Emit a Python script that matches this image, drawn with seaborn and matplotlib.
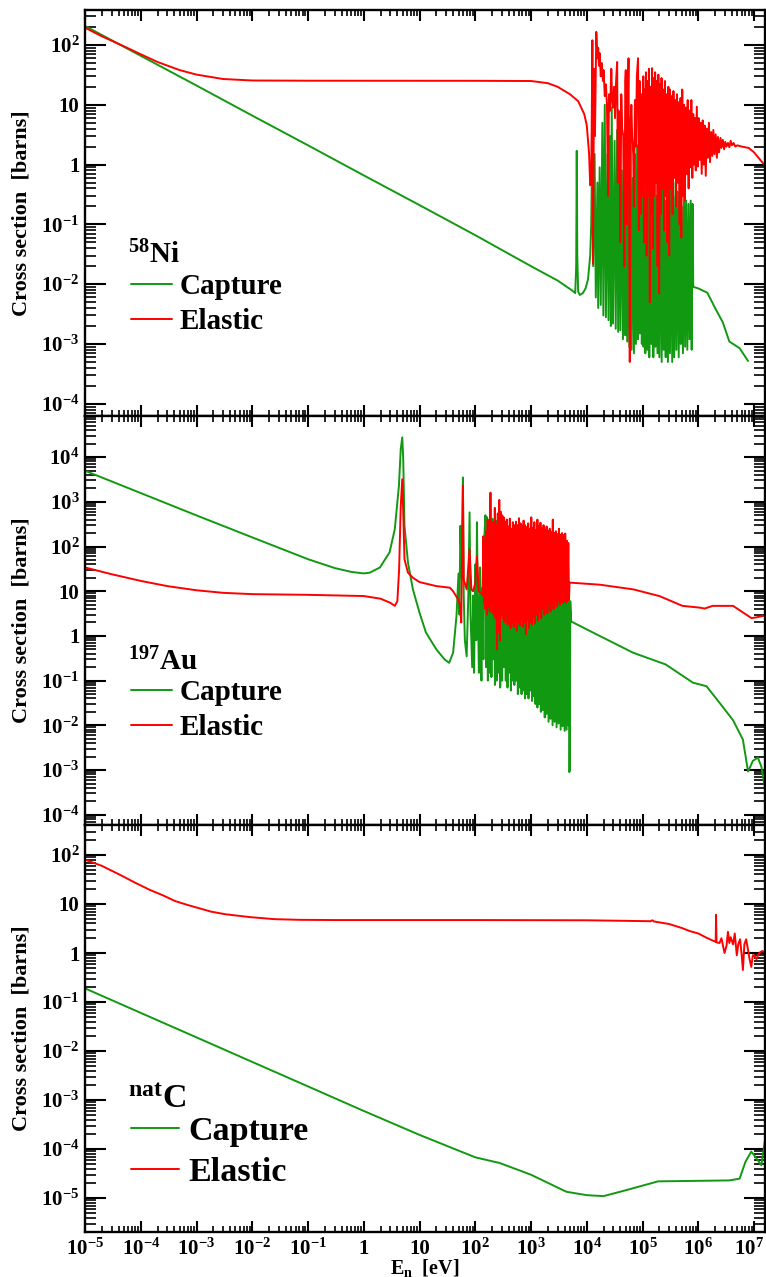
import numpy as np
import pandas as pd
import matplotlib
matplotlib.use("Agg")
import matplotlib.pyplot as plt
import matplotlib.transforms as mtransforms
import seaborn as sns
from matplotlib.ticker import FixedLocator, FuncFormatter, NullFormatter

# ---------------- data (E in eV, cross section in barns) ----------------
ni_capture = [
    (1e-5, 208), (1e-4, 66), (1e-3, 21), (1e-2, 6.6), (0.1, 2.1), (1, 0.66), (10, 0.21),
    (100, 0.066), (1000, 0.02), (3000, 0.0115), (5500, 0.0078), (6200, 0.0071), (6450, 0.02),
    (6600, 1.7), (6750, 0.03), (7000, 0.0075), (7500, 0.0066), (8500, 0.0071), (9500, 0.0085),
    (1.05e4, 0.012), (1.15e4, 0.03), (1.2e4, 0.1),
    (1.25e4, 2.0), (1.3e4, 0.02), (1.38e4, 1.5), (1.45e4, 0.006), (1.55e4, 0.5), (1.6e4, 0.004),
    (1.7e4, 0.9), (1.78e4, 0.0045), (1.9e4, 5), (1.98e4, 0.003), (2.1e4, 10), (2.2e4, 0.0028),
    (2.35e4, 1.5), (2.45e4, 0.0025), (2.6e4, 3), (2.7e4, 0.002), (2.8e4, 9), (2.95e4, 0.0022),
    (3.15e4, 2.5), (3.3e4, 0.0018), (3.5e4, 3.8), (3.65e4, 0.0016), (3.85e4, 5), (4.0e4, 0.0017),
    (4.25e4, 0.8), (4.45e4, 0.0012), (4.7e4, 2.2), (4.9e4, 0.0014), (5.1e4, 3.5), (5.3e4, 0.0011),
    (5.6e4, 1.0), (5.8e4, 0.0009), (6.1e4, 2.0), (6.35e4, 0.0008), (6.7e4, 0.6), (7.0e4, 0.0007),
    (7.3e4, 1.5), (7.6e4, 0.001), (8.0e4, 2.1), (8.3e4, 0.0012), (8.7e4, 0.9), (9.0e4, 0.0015),
    (9.4e4, 1.2), (9.7e4, 0.001),
    (1.0e5, 0.6), (1.04e5, 0.0009), (1.08e5, 1.0), (1.12e5, 0.0007), (1.17e5, 0.4), (1.22e5, 0.0008),
    (1.27e5, 1.5), (1.32e5, 0.0006), (1.38e5, 0.7), (1.44e5, 0.001), (1.5e5, 0.5), (1.56e5, 0.0006),
    (1.63e5, 1.2), (1.7e5, 0.0009), (1.77e5, 0.3), (1.85e5, 0.0007), (1.93e5, 0.8), (2.0e5, 0.0006),
    (2.1e5, 0.5), (2.2e5, 0.0005), (2.3e5, 0.9), (2.4e5, 0.0008), (2.5e5, 0.25), (2.6e5, 0.0006),
    (2.72e5, 0.6), (2.85e5, 0.0005), (2.97e5, 0.4), (3.1e5, 0.0007), (3.25e5, 0.7), (3.4e5, 0.0005),
    (3.55e5, 0.3), (3.7e5, 0.0006), (3.9e5, 0.5), (4.05e5, 0.0008), (4.25e5, 0.35), (4.45e5, 0.0006),
    (4.65e5, 0.45), (4.85e5, 0.001), (5.05e5, 0.2), (5.3e5, 0.0007), (5.55e5, 0.3), (5.8e5, 0.0009),
    (6.05e5, 0.25), (6.35e5, 0.0008), (6.65e5, 0.22), (6.95e5, 0.0012), (7.3e5, 0.25), (7.6e5, 0.0008),
    (7.9e5, 0.22), (8.1e5, 0.01),
    (8.2e5, 0.009), (1.0e6, 0.0085), (1.45e6, 0.0072), (2.0e6, 0.004), (2.75e6, 0.0023),
    (3.6e6, 0.0011), (5.5e6, 0.00085), (7.8e6, 0.00052),
]

ni_elastic = [
    (1e-5, 195), (2e-5, 140), (5e-5, 95), (1e-4, 70), (2e-4, 52), (5e-4, 38), (1e-3, 32),
    (3e-3, 27), (1e-2, 25.5), (0.1, 25.3), (1, 25.3), (10, 25.2), (100, 25.2), (1000, 25),
    (2000, 23), (3000, 20), (5000, 15), (7000, 11.5), (9000, 7), (1.0e4, 4.5), (1.1e4, 1.5),
    (1.15e4, 0.45), (1.2e4, 0.5),
    (1.26e4, 120), (1.29e4, 0.022), (1.35e4, 40), (1.4e4, 3), (1.48e4, 166), (1.55e4, 60),
    (1.6e4, 90), (1.65e4, 45), (1.7e4, 73), (1.78e4, 30), (1.85e4, 50), (1.95e4, 25), (2.0e4, 38),
    (2.1e4, 14), (2.2e4, 22), (2.3e4, 10), (2.4e4, 0.3), (2.5e4, 15), (2.62e4, 8), (2.75e4, 40),
    (2.85e4, 12), (2.95e4, 9), (3.1e4, 20), (3.2e4, 6), (3.35e4, 25), (3.5e4, 52), (3.6e4, 0.5),
    (3.7e4, 8), (3.85e4, 5), (4.0e4, 0.05), (4.15e4, 15), (4.3e4, 4), (4.5e4, 3), (4.7e4, 0.02),
    (4.9e4, 25), (5.0e4, 38), (5.2e4, 0.1), (5.4e4, 6), (5.6e4, 60), (5.9e4, 0.0005), (6.1e4, 5),
    (6.3e4, 10), (6.5e4, 3), (6.8e4, 1.5), (7.0e4, 0.2), (7.3e4, 12), (7.6e4, 2), (7.9e4, 30),
    (8.3e4, 60), (8.6e4, 0.08), (8.9e4, 25), (9.2e4, 0.15), (9.6e4, 15), (1.0e5, 0.3),
    (1.03e5, 30), (1.06e5, 0.05), (1.09e5, 18), (1.12e5, 0.5), (1.15e5, 35), (1.18e5, 0.03),
    (1.22e5, 25), (1.26e5, 0.3), (1.3e5, 40), (1.35e5, 0.005), (1.39e5, 20), (1.44e5, 0.15),
    (1.48e5, 41), (1.53e5, 0.04), (1.58e5, 28), (1.63e5, 0.3), (1.68e5, 35), (1.74e5, 0.5),
    (1.8e5, 25), (1.86e5, 0.02), (1.92e5, 32), (1.98e5, 0.007), (2.05e5, 22), (2.12e5, 0.15),
    (2.19e5, 28), (2.27e5, 0.4), (2.35e5, 18), (2.43e5, 0.08), (2.52e5, 25), (2.6e5, 0.3),
    (2.7e5, 15), (2.8e5, 0.05), (2.9e5, 20), (3.0e5, 0.03), (3.1e5, 18), (3.22e5, 0.4),
    (3.34e5, 14), (3.46e5, 0.15), (3.58e5, 17), (3.72e5, 0.6), (3.86e5, 12), (4.0e5, 0.2),
    (4.15e5, 15), (4.3e5, 0.5), (4.45e5, 11), (4.62e5, 0.1), (4.8e5, 13), (4.95e5, 0.06),
    (5.15e5, 18), (5.35e5, 0.3), (5.55e5, 10), (5.75e5, 0.25), (5.95e5, 9), (6.2e5, 0.7),
    (6.45e5, 12), (6.7e5, 0.4), (6.95e5, 8), (7.2e5, 0.9), (7.5e5, 12), (7.8e5, 0.6), (8.1e5, 7),
    (8.4e5, 1.0), (8.7e5, 6), (9.0e5, 0.8), (9.4e5, 9.3), (9.8e5, 0.93), (1.02e6, 6), (1.06e6, 1.2),
    (1.1e6, 5), (1.15e6, 0.7), (1.2e6, 5.5), (1.25e6, 1.0), (1.3e6, 4.5), (1.36e6, 0.65),
    (1.42e6, 4), (1.48e6, 1.3), (1.55e6, 5), (1.62e6, 1.1), (1.7e6, 3.5), (1.78e6, 1.4),
    (1.86e6, 3.8), (1.95e6, 1.5), (2.05e6, 3.2), (2.15e6, 1.3), (2.25e6, 2.9), (2.35e6, 1.6),
    (2.5e6, 2.8), (2.6e6, 1.9), (2.75e6, 2.6), (2.9e6, 1.8), (3.05e6, 2.4), (3.2e6, 2.0),
    (3.4e6, 2.3), (3.6e6, 1.95), (3.8e6, 2.5), (4.0e6, 2.1), (4.3e6, 2.3), (4.6e6, 2.0),
    (5.0e6, 2.1), (6e6, 2.0), (8e6, 1.9), (1e7, 1.6), (1.2e7, 1.3), (1.45e7, 1.05), (1.6e7, 0.95),
]

au_capture = [
    (1e-5, 4950), (1e-4, 1570), (1e-3, 496), (1e-2, 160), (0.1, 52), (0.3, 33), (0.6, 27),
    (1.0, 25), (1.28, 26), (1.95, 34), (2.9, 74), (3.6, 244), (4.27, 2300), (4.6, 15000),
    (4.9, 27600), (5.1, 9000), (5.37, 290), (6.2, 44), (7.6, 11), (10, 3.3), (13, 1.2), (20, 0.5),
    (28, 0.3), (34, 0.25), (40, 0.42),
    (46, 2.8), (50, 25), (52, 3), (54, 290), (57, 20), (60, 3500), (62, 8), (65, 0.8), (70, 0.35),
    (75, 8), (79, 580), (82, 3), (88, 0.2), (91, 8), (95, 0.15), (100, 40), (104, 0.8), (107, 350),
    (111, 6), (116, 0.15), (122, 34), (126, 0.4), (129, 0.1), (135, 12), (140, 0.3), (146, 180),
    (152, 500), (157, 0.2), (163, 450), (168, 0.1), (175, 300), (181, 0.15), (188, 120),
    (195, 0.12), (203, 420), (210, 0.3), (218, 250), (225, 0.08), (233, 380), (241, 0.1),
    (250, 150), (260, 0.15), (270, 400), (280, 0.07), (292, 200), (303, 0.1), (315, 300),
    (328, 0.2), (340, 180), (352, 0.1), (365, 250), (378, 0.07), (392, 120), (406, 0.15),
    (420, 200), (436, 0.06), (452, 150), (468, 0.1), (485, 220), (502, 0.08), (520, 100),
    (540, 0.1), (560, 160), (580, 0.05), (600, 90), (625, 0.07), (650, 140), (675, 0.05),
    (700, 80), (725, 0.06), (750, 120), (780, 0.04), (810, 70), (840, 0.05), (870, 100),
    (900, 0.04), (935, 60), (970, 0.06), (1000, 80), (1040, 0.035), (1080, 50), (1120, 0.045),
    (1160, 70), (1200, 0.03), (1250, 45), (1300, 0.025), (1350, 55), (1400, 0.03), (1450, 40),
    (1500, 0.02), (1560, 45), (1620, 0.022), (1690, 35), (1760, 0.015), (1830, 40), (1900, 0.018),
    (1980, 30), (2060, 0.012), (2150, 32), (2240, 0.014), (2330, 25), (2430, 0.01), (2530, 28),
    (2640, 0.012), (2750, 20), (2870, 0.009), (2990, 22), (3120, 0.011), (3250, 18),
    (3390, 0.008), (3530, 20), (3680, 0.0095), (3840, 16), (4000, 0.0075), (4170, 15),
    (4350, 0.008), (4530, 12), (4700, 0.01), (4800, 8), (4850, 0.0009), (4950, 0.001),
    (5050, 6), (5250, 2.1),
    (1.7e4, 1.0), (6.8e4, 0.42), (2.6e5, 0.23), (8e5, 0.09), (1.4e6, 0.075), (2.4e6, 0.032),
    (4.2e6, 0.013), (6.3e6, 0.0048), (7.8e6, 0.00093), (9.5e6, 0.0016), (1.17e7, 0.0019),
    (1.35e7, 0.0012), (1.55e7, 0.00043),
]

au_elastic = [
    (1e-5, 34), (3e-5, 24), (1e-4, 17), (3e-4, 13), (1e-3, 10.5), (3e-3, 9.2), (1e-2, 8.6),
    (0.1, 8.3), (1, 7.8), (2, 6.8), (3, 5.5), (3.6, 4.7), (4.0, 6), (4.3, 30), (4.6, 800),
    (4.9, 3200), (5.1, 600), (5.37, 52), (6.2, 26), (7.6, 20), (10, 16), (20, 13), (35, 12),
    (40, 10), (49, 6.6), (53, 5), (56, 2), (60, 2300), (62, 18), (70, 11), (79, 87), (85, 11),
    (91, 10), (100, 15), (107, 60), (115, 10), (129, 9),
    (135, 8), (140, 170), (144, 5.5), (148, 120), (152, 4), (157, 220), (162, 3), (167, 400),
    (172, 4.5), (177, 300), (182, 3.5), (187, 1600), (193, 5), (199, 250), (205, 3.2), (211, 350),
    (217, 2.8), (224, 730), (231, 2.5), (238, 300), (245, 0.5), (253, 550), (261, 1.2),
    (269, 1100), (277, 0.8), (286, 600), (295, 3), (304, 500), (314, 2.5), (324, 450), (334, 2),
    (345, 350), (356, 3), (367, 400), (379, 1.8), (391, 280), (403, 2.2), (416, 420), (429, 1.5),
    (443, 250), (457, 2), (472, 350), (487, 1.6), (503, 300), (519, 2.2), (536, 360), (553, 1.3),
    (571, 300), (589, 2), (608, 430), (628, 1.7), (648, 330), (669, 2.4), (690, 290), (712, 1.6),
    (735, 380), (759, 2), (783, 300), (808, 1.1), (834, 270), (861, 2.3), (889, 330), (918, 1.5),
    (947, 250), (978, 2), (1010, 450), (1040, 1.8), (1075, 260), (1110, 2.6), (1145, 350),
    (1180, 1.9), (1220, 230), (1260, 3), (1300, 400), (1340, 2.2), (1385, 280), (1430, 3.5),
    (1475, 340), (1520, 2.5), (1570, 250), (1620, 4), (1675, 300), (1730, 3), (1785, 230),
    (1840, 4.5), (1900, 280), (1960, 3.2), (2025, 220), (2090, 5), (2160, 250), (2230, 3.5),
    (2300, 210), (2380, 5.5), (2455, 400), (2535, 4), (2620, 200), (2700, 6), (2790, 220),
    (2880, 4.5), (2975, 190), (3070, 6), (3170, 250), (3270, 5), (3380, 185), (3490, 6),
    (3600, 200), (3720, 5.5), (3840, 180), (3970, 6), (4100, 195), (4230, 5.5), (4370, 135),
    (4510, 6), (4660, 120), (4800, 6.5), (4900, 15.5),
    (5.25e3, 15.5), (1.7e4, 14), (6.8e4, 11), (2e5, 7.8), (5.2e5, 4.7), (1.05e6, 4.3),
    (1.3e6, 4.1), (1.8e6, 4.7), (4.2e6, 4.7), (6e6, 3.5), (9e6, 2.5), (1.1e7, 2.6),
    (1.45e7, 2.8), (1.6e7, 2.8),
]

c_capture = [
    (1e-5, 0.19), (1e-4, 0.06), (1e-3, 0.019), (1e-2, 0.006), (0.1, 0.0019), (1, 6e-4),
    (10, 1.95e-4), (100, 6.8e-5), (275, 5.2e-5), (1000, 3e-5), (4300, 1.35e-5), (1e4, 1.15e-5),
    (2e4, 1.1e-5), (5e4, 1.45e-5), (1.9e5, 2.2e-5), (3.6e6, 2.3e-5), (5.5e6, 2.5e-5),
    (7e6, 5.5e-5), (8.9e6, 8.9e-5), (1.05e7, 7e-5), (1.35e7, 4.7e-5), (1.6e7, 1.8e-4),
]

c_elastic = [
    (1e-5, 80), (2e-5, 60), (4.3e-5, 39), (8e-5, 27), (1.45e-4, 19.4), (2.5e-4, 15),
    (4.1e-4, 11.5), (7e-4, 9.5), (1.15e-3, 8.1), (1.8e-3, 7.0), (3.2e-3, 6.2), (9e-3, 5.4),
    (2.5e-2, 4.9), (7e-2, 4.75), (0.3, 4.7), (1, 4.7), (100, 4.7), (1e4, 4.65), (1.4e5, 4.45),
    (1.5e5, 4.65), (1.6e5, 4.4), (3e5, 3.9), (5.2e5, 3.2), (7e5, 2.8), (1e6, 2.5), (1.4e6, 2.05),
    (1.9e6, 1.75), (2.05e6, 1.7),
    (2.08e6, 6.0), (2.12e6, 1.65), (2.4e6, 1.6), (2.6e6, 2.0), (2.95e6, 1.0), (3.2e6, 1.4),
    (3.4e6, 2.7), (3.6e6, 1.6), (3.8e6, 2.1), (4.2e6, 1.5), (4.5e6, 2.5), (4.9e6, 0.9),
    (5.2e6, 1.5), (5.6e6, 1.9), (6.0e6, 0.9), (6.3e6, 0.45), (6.7e6, 1.5), (7.2e6, 1.9),
    (7.8e6, 1.15), (8.3e6, 0.75), (8.9e6, 0.52), (9.5e6, 0.9), (1.0e7, 0.9), (1.1e7, 0.75),
    (1.23e7, 1.0), (1.4e7, 1.1), (1.6e7, 1.0),
]

panels = [
    (r"$^{58}$Ni", ni_capture, ni_elastic, (6.25e-5, 385)),
    (r"$^{197}$Au", au_capture, au_elastic, (5.9e-5, 8.3e4)),
    (r"$^{\mathrm{nat}}$C", c_capture, c_elastic, (2.04e-6, 408)),
]
reactions = ["Capture", "Elastic"]
colors = {"Capture": "#119911", "Elastic": "#ff0000"}
x_range = (1e-5, 1.57e7)

# ---------------- style ----------------
sns.set_style("ticks")
plt.rcParams.update({
    "font.family": ["Liberation Serif", "DejaVu Serif"],
    "font.weight": "bold",
    "mathtext.fontset": "custom",
    "mathtext.rm": "Liberation Serif:bold",
    "mathtext.it": "Liberation Serif:bold",
    "mathtext.bf": "Liberation Serif:bold",
    "axes.linewidth": 1.7,
    "axes.edgecolor": "black",
    "text.color": "black",
    "axes.labelcolor": "black",
    "xtick.color": "black",
    "ytick.color": "black",
    "xtick.labelcolor": "black",
    "ytick.labelcolor": "black",
})

W, H = 766, 1277
fig = plt.figure(figsize=(W / 100, H / 100), dpi=100)
L, R = 85, 765
bounds = [(10, 416), (416, 825), (825, 1232)]


def logfmt(v, pos):
    e = int(round(np.log10(v)))
    if e == 0:
        return "1"
    if e == 1:
        return "10"
    return r"$10^{%d}$" % e


def decade_ticks(lo, hi):
    a, b = int(np.ceil(np.log10(lo) - 1e-9)), int(np.floor(np.log10(hi) + 1e-9))
    major = [10.0 ** k for k in range(a, b + 1)]
    minor = [m * 10.0 ** k for k in range(a - 1, b + 1) for m in range(2, 10)
             if lo <= m * 10.0 ** k <= hi]
    return major, minor


# (font size, title baseline px, legend row-centre px)
legend_cfg = [
    (21, 263, 304),
    (21, 670, 710),
    (24.5, 1108, 1152),
]

axes = []
for i, ((top, bot), (title, cap, el, ylim)) in enumerate(zip(bounds, panels)):
    ax = fig.add_axes([L / W, 1 - bot / H, (R - L) / W, (bot - top) / H])
    frames = []
    for name, data in zip(reactions, (cap, el)):
        e, s = zip(*data)
        frames.append(pd.DataFrame({"E": e, "sigma": s, "reaction": name}))
    df = pd.concat(frames, ignore_index=True)
    sns.lineplot(data=df, x="E", y="sigma", hue="reaction", hue_order=reactions,
                 palette=colors, estimator=None, sort=False, lw=1.4, ax=ax)
    ax.set_xscale("log")
    ax.set_yscale("log")
    ax.set_xlim(*x_range)
    ax.set_ylim(*ylim)

    xmaj, xmin = decade_ticks(*x_range)
    ymaj, ymin = decade_ticks(*ylim)
    ax.xaxis.set_major_locator(FixedLocator(xmaj))
    ax.xaxis.set_minor_locator(FixedLocator(xmin))
    ax.yaxis.set_major_locator(FixedLocator(ymaj))
    ax.yaxis.set_minor_locator(FixedLocator(ymin))
    ax.yaxis.set_major_formatter(FuncFormatter(logfmt))
    ax.yaxis.set_minor_formatter(NullFormatter())
    ax.xaxis.set_minor_formatter(NullFormatter())
    if i == 2:
        ax.xaxis.set_major_formatter(FuncFormatter(logfmt))
    else:
        ax.xaxis.set_major_formatter(NullFormatter())

    ax.tick_params(which="both", direction="in", top=True, right=True, colors="black")
    ax.tick_params(axis="x", which="major", length=8, width=1.5, pad=5, labelsize=15)
    ax.tick_params(axis="x", which="minor", length=4, width=1.2)
    ax.tick_params(axis="y", which="major", length=15, width=1.5, pad=4, labelsize=15)
    ax.tick_params(axis="y", which="minor", length=8, width=1.2)

    ax.set_ylabel("Cross section  [barns]", fontsize=16, fontweight="bold", color="black")
    ax.yaxis.set_label_coords(-0.078, 0.5)
    ax.set_xlabel("")

    fs, base_px, row_px = legend_cfg[i]
    h_ax = bot - top
    ax.text((128 - L) / (R - L), (bot - base_px) / h_ax, title, transform=ax.transAxes,
            fontsize=fs, fontweight="bold", ha="left", va="baseline", color="black")
    handles, labels = ax.get_legend_handles_labels()
    leg = ax.legend(handles, labels, loc="center left",
                    bbox_to_anchor=((131 - L) / (R - L), (bot - row_px) / h_ax),
                    frameon=False, fontsize=fs, handlelength=1.4, handletextpad=0.28,
                    labelspacing=0.27, borderpad=0, borderaxespad=0)
    for t in leg.get_texts():
        t.set_fontweight("bold")
        t.set_color("black")
    for s in ax.spines.values():
        s.set_linewidth(1.7)
        s.set_color("black")
    axes.append(ax)

axes[2].set_xlabel(r"E$_{\mathrm{n}}$  [eV]", fontsize=14.5, fontweight="bold", color="black")
axes[2].xaxis.set_label_coords(0.5, -0.062)

# keep the last bottom tick label (10^7) inside the canvas, as in the reference
last = axes[2].xaxis.get_major_ticks()[-1].label1
last.set_transform(last.get_transform()
                   + mtransforms.ScaledTranslation(-5 / 100, 0, fig.dpi_scale_trans))

fig.savefig("out.png", dpi=100)
